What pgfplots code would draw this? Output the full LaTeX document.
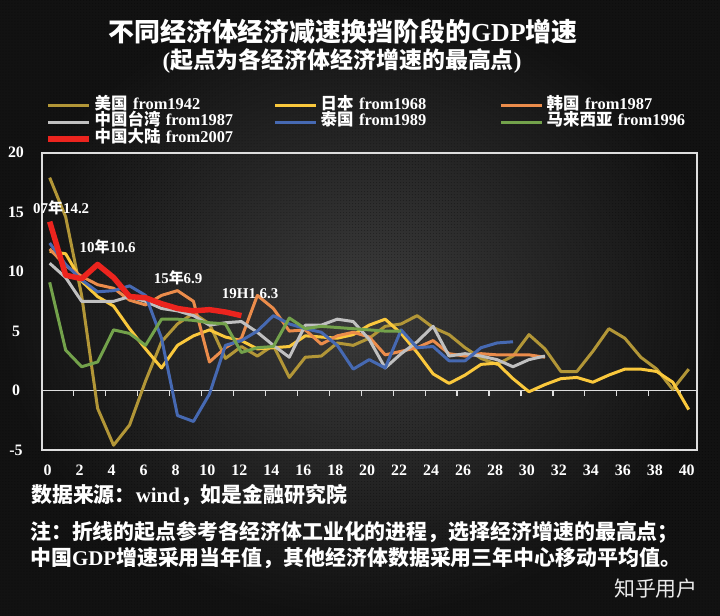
\documentclass[border=0pt]{standalone}
\usepackage{fontspec}
\setmainfont{Liberation Serif}
\newfontfamily\cjk{Noto Sans CJK SC}
\usepackage{pgfplots}
\pgfplotsset{compat=1.18}
\usetikzlibrary{patterns}
\definecolor{usc}{RGB}{178,150,55}
\definecolor{jpc}{RGB}{250,200,60}
\definecolor{krc}{RGB}{235,140,75}
\definecolor{twc}{RGB}{192,192,192}
\definecolor{thc}{RGB}{70,105,178}
\definecolor{myc}{RGB}{115,162,75}
\definecolor{cnc}{RGB}{236,36,30}
\definecolor{framecol}{RGB}{222,222,222}
\definecolor{bginner}{RGB}{60,60,60}
\definecolor{bgouter}{RGB}{18,18,18}
\newcommand\zh[1]{{\cjk #1}}
\begin{document}
\begin{tikzpicture}[x=1bp,y=1bp]
\shade[inner color=bginner, outer color=bgouter] (0,0) rectangle (720,616);
\fill[pattern=dots, pattern color=black, opacity=0.35] (0,0) rectangle (720,616);
\useasboundingbox (0,0) rectangle (720,616);
% titles
\node[text=white, inner sep=0, font=\bfseries\fontsize{26}{26}\selectfont] at (343,584) {\zh{不同经济体经济减速换挡阶段的}GDP\zh{增速}};
\node[text=white, inner sep=0, font=\bfseries\fontsize{23}{23}\selectfont] at (342,555) {(\zh{起点为各经济体经济增速的最高点})};
\begin{axis}[
  at={(41.7bp,166bp)}, anchor=south west,
  width=655bp, height=297.3bp, scale only axis,
  xmin=-0.5, xmax=40.5, ymin=-5, ymax=20,
  clip=false,
  xtick={0,2,...,40}, ytick={-5,0,5,10,15,20},
  major tick length=0pt,
  axis line style={draw=framecol, line width=1.8bp},
  ticklabel style={text=white, font=\bfseries\fontsize{16}{16}\selectfont, inner sep=0pt},
  /pgf/number format/assume math mode=true,
  xticklabel style={anchor=center, yshift=-20.7bp, xshift=-2bp},
  yticklabel style={anchor=center, xshift=-25.7bp},
  every axis plot/.append style={mark=none, line join=round},
  legend columns=3,
  legend style={
    draw=none, fill=none, text=white,
    at={(axis description cs:0,1)}, anchor=north west,
    xshift=3.3bp, yshift=55.3bp,
    font=\bfseries\fontsize{16.5}{16.5}\selectfont,
    inner xsep=0pt, inner ysep=0pt, row sep=0pt,
    nodes={inner sep=0pt, text height=11.8bp, text depth=4.7bp, text width=179bp, align=left},
    /tikz/every odd column/.style={column sep=3bp},
  },
  legend image code/.code={\draw[#1] (0bp,0bp) -- (41bp,0bp);},
]
% zero line with ticks
\draw[framecol, line width=1.8bp] (axis cs:-0.5,0) -- (axis cs:40.5,0);
\pgfplotsinvokeforeach{1.5,3.5,...,39.5}{\draw[framecol, line width=1.2bp] (axis cs:#1,0) -- ++(0bp,-5bp);}
% US from 1942
\addplot[color=usc, line width=3bp] coordinates {
(0,17.9)(1,14.6)(2,8.0)(3,-1.5)(4,-4.6)(5,-2.9)(6,0.8)(7,4.1)(8,5.6)(9,6.5)
(10,5.6)(11,2.7)(12,3.7)(13,2.9)(14,3.8)(15,1.1)(16,2.8)(17,2.9)(18,4.0)(19,3.8)
(20,4.4)(21,5.4)(22,5.6)(23,6.3)(24,5.3)(25,4.7)(26,3.6)(27,2.7)(28,2.2)(29,2.9)
(30,4.7)(31,3.5)(32,1.6)(33,1.6)(34,3.3)(35,5.2)(36,4.4)(37,2.8)(38,1.8)(39,0.1)(40,1.8)};
\addlegendentry{\zh{美国} from1942}
% Japan from 1968
\addplot[color=jpc, line width=3bp] coordinates {
(0,11.7)(1,11.5)(2,9.2)(3,7.9)(4,7.1)(5,5.2)(6,3.5)(7,1.9)(8,3.8)(9,4.6)
(10,5.1)(11,4.5)(12,4.2)(13,3.5)(14,3.6)(15,3.7)(16,4.6)(17,4.5)(18,4.4)(19,4.7)
(20,5.5)(21,6.0)(22,4.8)(23,3.2)(24,1.4)(25,0.6)(26,1.3)(27,2.2)(28,2.3)(29,1.0)
(30,-0.1)(31,0.5)(32,1.0)(33,1.1)(34,0.7)(35,1.3)(36,1.8)(37,1.8)(38,1.6)(39,0.7)(40,-1.6)};
\addlegendentry{\zh{日本} from1968}
% Korea from 1987
\addplot[color=krc, line width=3bp] coordinates {
(0,11.9)(1,10.5)(2,9.6)(3,8.9)(4,8.6)(5,7.6)(6,7.2)(7,8.0)(8,8.4)(9,7.5)
(10,2.4)(11,3.6)(12,4.4)(13,8.0)(14,6.9)(15,5.0)(16,5.1)(17,3.9)(18,4.6)(19,4.9)
(20,4.5)(21,3.0)(22,3.3)(23,3.6)(24,4.2)(25,3.1)(26,2.9)(27,3.1)(28,3.0)(29,3.0)
(30,3.0)(31,2.8)};
\addlegendentry{\zh{韩国} from1987}
% Taiwan from 1987
\addplot[color=twc, line width=3bp] coordinates {
(0,10.7)(1,9.5)(2,7.5)(3,7.5)(4,7.5)(5,7.9)(6,7.5)(7,6.9)(8,6.7)(9,6.3)
(10,5.5)(11,5.7)(12,5.8)(13,4.9)(14,3.8)(15,2.8)(16,5.5)(17,5.5)(18,6.0)(19,5.8)
(20,4.3)(21,1.9)(22,3.1)(23,4.1)(24,5.4)(25,2.9)(26,3.1)(27,2.9)(28,2.6)(29,2.0)
(30,2.6)(31,2.9)};
\addlegendentry{\zh{中国台湾} from1987}
% Thailand from 1989
\addplot[color=thc, line width=3bp] coordinates {
(0,12.4)(1,10.6)(2,9.3)(3,8.3)(4,8.4)(5,8.8)(6,8.0)(7,4.4)(8,-2.1)(9,-2.6)
(10,-0.3)(11,3.8)(12,4.2)(13,5.0)(14,6.3)(15,5.6)(16,5.2)(17,4.9)(18,3.8)(19,1.8)
(20,2.6)(21,1.9)(22,5.1)(23,3.6)(24,3.7)(25,2.5)(26,2.5)(27,3.6)(28,4.0)(29,4.1)};
\addlegendentry{\zh{泰国} from1989}
% Malaysia from 1996
\addplot[color=myc, line width=3bp] coordinates {
(0,9.1)(1,3.4)(2,2.0)(3,2.4)(4,5.1)(5,4.8)(6,3.8)(7,6.0)(8,6.0)(9,5.9)
(10,5.7)(11,5.6)(12,3.2)(13,3.6)(14,3.7)(15,6.1)(16,5.2)(17,5.4)(18,5.3)(19,5.2)
(20,5.1)(21,5.0)(22,5.0)};
\addlegendentry{\zh{马来西亚} from1996}
% China mainland from 2007
\addplot[color=cnc, line width=5.5bp] coordinates {
(0,14.2)(1,9.7)(2,9.4)(3,10.6)(4,9.5)(5,7.9)(6,7.8)(7,7.3)(8,6.9)(9,6.7)
(10,6.8)(11,6.6)(12,6.3)};
\addlegendentry{\zh{中国大陆} from2007}
% data labels
\node[text=white, inner sep=0, font=\bfseries\fontsize{15}{15}\selectfont] at (axis cs:0.72,15.35) {07\zh{年}14.2};
\node[text=white, inner sep=0, font=\bfseries\fontsize{15}{15}\selectfont] at (axis cs:3.63,12.11) {10\zh{年}10.6};
\node[text=white, inner sep=0, font=\bfseries\fontsize{15}{15}\selectfont] at (axis cs:8.04,9.48) {15\zh{年}6.9};
\node[text=white, inner sep=0, font=\bfseries\fontsize{15}{15}\selectfont] at (axis cs:12.55,8.13) {19H1 6.3};
\end{axis}
% notes
\node[text=white, inner sep=0, anchor=west, font=\bfseries\fontsize{21}{21}\selectfont] at (31,121) {\zh{数据来源：}wind\zh{，如是金融研究院}};
\node[text=white, inner sep=0, anchor=west, font=\bfseries\fontsize{21}{21}\selectfont] at (30,84) {\zh{注：折线的起点参考各经济体工业化的进程，选择经济增速的最高点；}};
\node[text=white, inner sep=0, anchor=west, font=\bfseries\fontsize{21}{21}\selectfont] at (30,58) {\zh{中国}GDP\zh{增速采用当年值，其他经济体数据采用三年中心移动平均值。}};
\node[text=white!92!black, inner sep=0, anchor=east, font=\fontsize{21}{21}\selectfont] at (698,27) {\zh{知乎用户}};
\end{tikzpicture}
\end{document}
